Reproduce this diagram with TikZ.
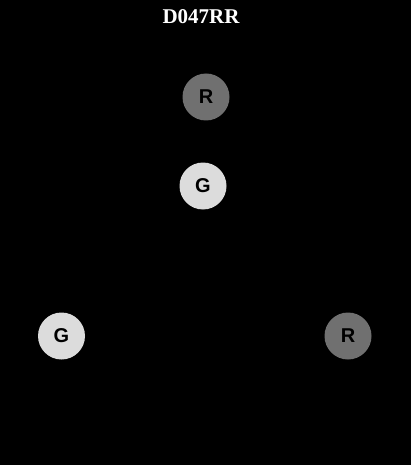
\documentclass[tikz,border=0pt]{standalone}
\usepackage{fontspec}
\setmainfont{Liberation Serif}
\setsansfont{Liberation Sans}
\usepackage{xcolor}
\usepackage{tikz}
\usetikzlibrary{positioning}
\definecolor{rdark}{RGB}{112,112,112}
\definecolor{glight}{RGB}{220,220,220}

\begin{document}
\begin{tikzpicture}[x=1pt, y=-1pt,
    lamp/.style={circle, minimum size=47pt, inner sep=0pt,
                 font=\sffamily\bfseries\fontsize{20}{20}\selectfont, text=black},
    rlamp/.style={lamp, fill=rdark},
    glamp/.style={lamp, fill=glight},
  ]
  \fill[black] (0,0) rectangle (411,465);
  \useasboundingbox (0,0) rectangle (411,465);

  \node[text=white, font=\bfseries\fontsize{21}{21}\selectfont] (title) at (201,17) {D047RR};

  \node[rlamp] (r1) at (206,97) {R};
  \node[glamp] (g1) at (203,186) {G};
  \node[glamp] (g2) at (61.5,336) {G};
  \node[rlamp] (r2) at (348,336) {R};
\end{tikzpicture}
\end{document}
